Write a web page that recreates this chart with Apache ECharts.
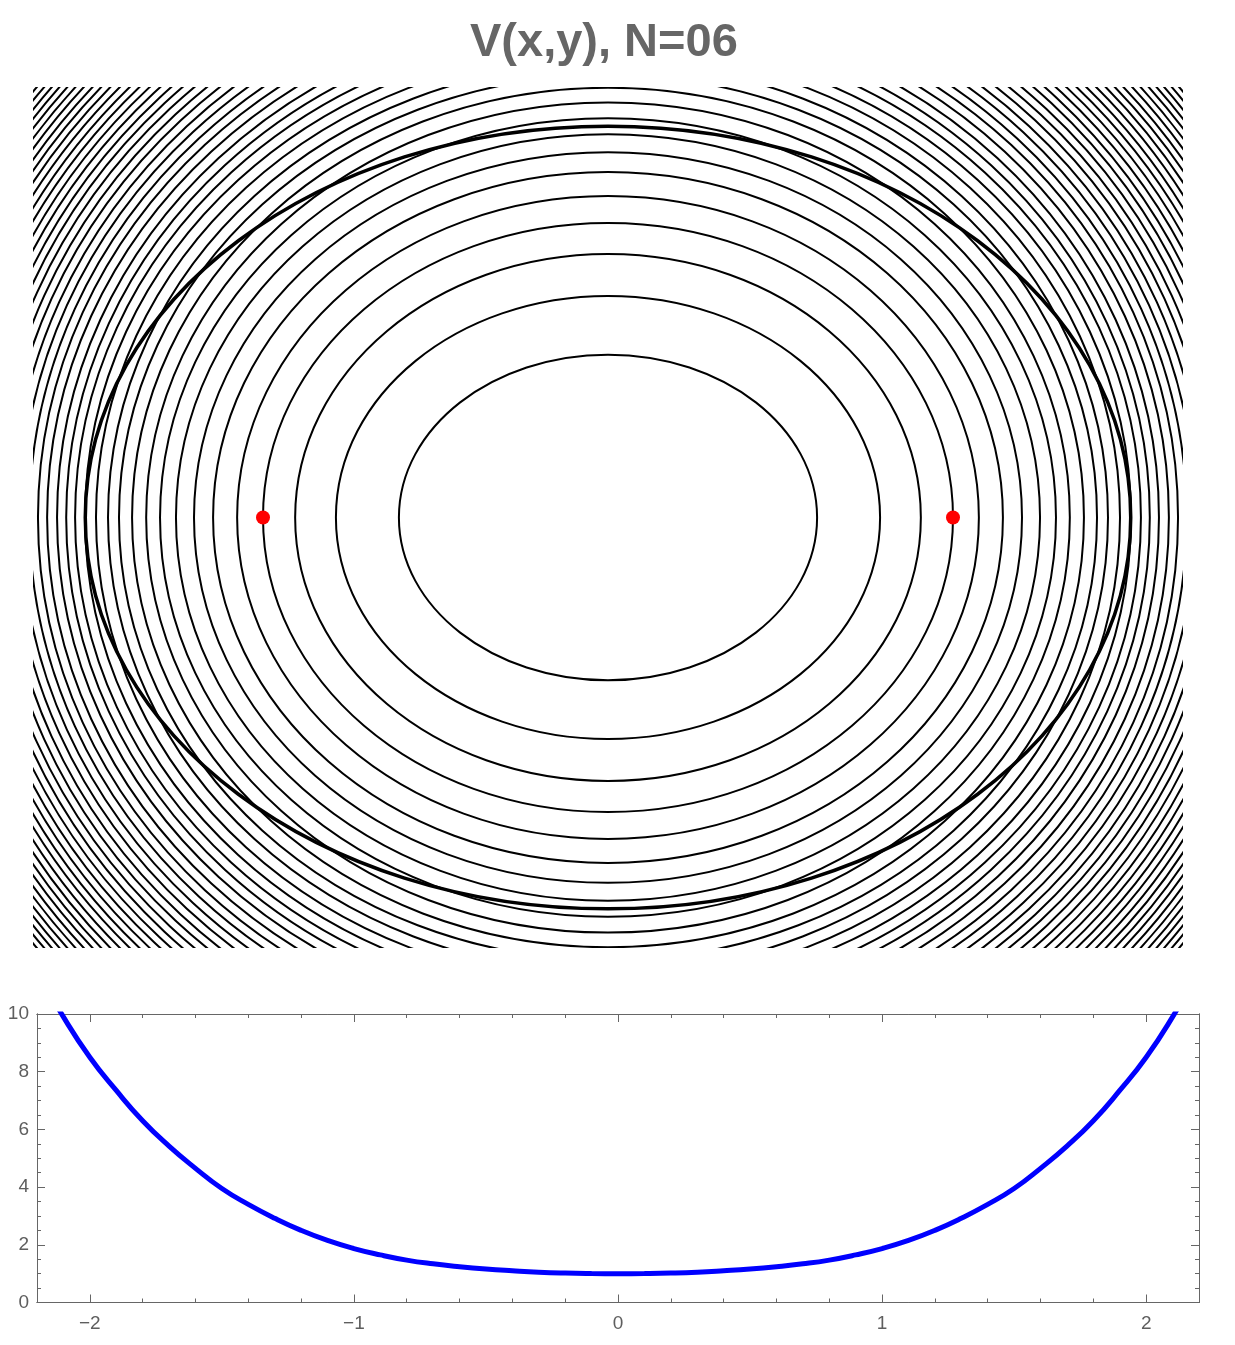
<!DOCTYPE html>
<html>
<head>
<meta charset="utf-8">
<title>V(x,y), N=06</title>
<script src="https://cdn.jsdelivr.net/npm/echarts@6/dist/echarts.min.js"></script>
<style>
  html, body { margin: 0; padding: 0; background: #fff; }
  #chart { width: 1235px; height: 1345px; }
</style>
</head>
<body>
<div id="chart"></div>
<script>
// contour lines of V(x,y): semi-axis along x and along y (data units), inner to outer
var contourRx = [0.800, 1.041, 1.197, 1.320, 1.419, 1.511, 1.584, 1.653, 1.714, 1.767,
  1.821, 1.871, 1.913, 1.959, 2.001, 2.039, 2.073, 2.108, 2.146, 2.181,
  2.214, 2.247, 2.279, 2.311, 2.341, 2.371, 2.400, 2.428, 2.456, 2.483,
  2.510, 2.536, 2.562, 2.588, 2.613, 2.637, 2.661, 2.685, 2.708, 2.730,
  2.752, 2.774, 2.795, 2.816, 2.836, 2.856];
var contourRy = [0.624, 0.849, 1.010, 1.129, 1.232, 1.324, 1.400, 1.469, 1.530, 1.591,
  1.647, 1.696, 1.743, 1.787, 1.829, 1.870, 1.909, 1.947, 1.984, 2.020,
  2.054, 2.088, 2.121, 2.153, 2.184, 2.215, 2.245, 2.274, 2.302, 2.330,
  2.357, 2.383, 2.410, 2.436, 2.461, 2.485, 2.510, 2.533, 2.556, 2.579,
  2.601, 2.623, 2.645, 2.666, 2.686, 2.707];

// thick orbit ellipse (semi-axes) and the two red points
var orbitAxes = [2.0, 1.5];
var pointX = [-1.32, 1.32];
var pointY = [0, 0];

// lower panel: V along x
var curveX = [-2.2, -2.1, -2.0, -1.9, -1.8, -1.7, -1.6, -1.5, -1.4, -1.3, -1.2, -1.1, -1.0,
  -0.9, -0.8, -0.7, -0.6, -0.5, -0.4, -0.3, -0.2, -0.1, 0,
  0.1, 0.2, 0.3, 0.4, 0.5, 0.6, 0.7, 0.8, 0.9, 1.0, 1.1, 1.2, 1.3, 1.4,
  1.5, 1.6, 1.7, 1.8, 1.9, 2.0, 2.1, 2.2];
var curveV = [11.5, 9.9, 8.5, 7.35, 6.3, 5.42, 4.65, 3.95, 3.4, 2.92, 2.5, 2.15, 1.87,
  1.65, 1.47, 1.34, 1.24, 1.16, 1.10, 1.05, 1.02, 1.005, 1.0,
  1.005, 1.02, 1.05, 1.10, 1.16, 1.24, 1.34, 1.47, 1.65, 1.87, 2.15, 2.5, 2.92, 3.4,
  3.95, 4.65, 5.42, 6.3, 7.35, 8.5, 9.9, 11.5];

var xMajor = [-2, -1, 0, 1, 2];
var yMajor = [0, 2, 4, 6, 8, 10];

var xMinor = [];
for (var i = -10; i <= 10; i++) { if (i % 5 !== 0) xMinor.push(i / 5); }
var yMinor = [];
for (var j = 1; j < 20; j++) { if (j % 4 !== 0) yMinor.push(j / 2); }

var gray = '#666';
var font = 'Liberation Sans, Arial, sans-serif';

function fmt(v) {
  return v < 0 ? '\u2212' + (-v) : String(v);
}

function frameAxis(dir, pos, ticks, len, labels) {
  var ax = {
    type: 'value',
    gridIndex: 1,
    position: pos,
    min: dir === 'x' ? -2.2 : 0,
    max: dir === 'x' ? 2.2 : 10,
    splitLine: { show: false },
    axisLine: { show: true, onZero: false, lineStyle: { color: gray, width: 1 } },
    axisTick: { show: true, inside: true, length: len, customValues: ticks,
      lineStyle: { color: gray, width: 1 } },
    axisLabel: { show: false }
  };
  if (labels) {
    ax.axisLabel = { show: true, customValues: labels, formatter: fmt, color: '#5e5e5e',
      fontSize: 19, fontFamily: font, margin: dir === 'x' ? 12 : 8 };
  }
  return ax;
}

var contourData = contourRx.map(function (rx, k) { return [rx, contourRy[k]]; });
var curveData = curveX.map(function (x, k) { return [x, curveV[k]]; });
var pointData = pointX.map(function (x, k) { return [x, pointY[k]]; });

function ellipseItem(width) {
  return function (params, api) {
    var c = api.coord([0, 0]);
    var s = api.size([api.value(0) * 2, api.value(1) * 2], [0, 0]);
    return {
      type: 'ellipse',
      shape: { cx: c[0], cy: c[1], rx: s[0] / 2, ry: s[1] / 2 },
      style: { fill: null, stroke: '#000', lineWidth: width }
    };
  };
}

var chart = echarts.init(document.getElementById('chart'), null, { renderer: 'canvas' });
chart.setOption({
  animation: false,
  backgroundColor: '#fff',
  title: {
    text: 'V(x,y), N=06',
    left: 470,
    top: 20,
    padding: 0,
    textStyle: { fontSize: 47, fontWeight: 'bold', color: gray, fontFamily: font }
  },
  grid: [
    { left: 33, top: 87, width: 1150, height: 861 },
    { left: 37, top: 1014, width: 1162, height: 288.5 }
  ],
  xAxis: [
    { type: 'value', gridIndex: 0, min: -2.2, max: 2.2, show: false },
    frameAxis('x', 'bottom', xMajor, 8, xMajor),
    frameAxis('x', 'bottom', xMinor, 4),
    frameAxis('x', 'top', xMajor, 8),
    frameAxis('x', 'top', xMinor, 4)
  ],
  yAxis: [
    { type: 'value', gridIndex: 0, min: -1.65, max: 1.65, show: false },
    frameAxis('y', 'left', yMajor, 8, yMajor),
    frameAxis('y', 'left', yMinor, 4),
    frameAxis('y', 'right', yMajor, 8),
    frameAxis('y', 'right', yMinor, 4)
  ],
  series: [
    {
      type: 'custom',
      xAxisIndex: 0, yAxisIndex: 0,
      clip: true,
      data: contourData,
      renderItem: ellipseItem(2),
      silent: true
    },
    {
      type: 'custom',
      xAxisIndex: 0, yAxisIndex: 0,
      clip: true,
      data: [orbitAxes],
      renderItem: ellipseItem(3.5),
      silent: true
    },
    {
      type: 'scatter',
      xAxisIndex: 0, yAxisIndex: 0,
      data: pointData,
      symbol: 'circle',
      symbolSize: 14,
      itemStyle: { color: '#ff0000', opacity: 1 },
      z: 5
    },
    {
      type: 'line',
      xAxisIndex: 1, yAxisIndex: 1,
      data: curveData,
      smooth: true,
      showSymbol: false,
      clip: true,
      lineStyle: { color: '#0000ff', width: 5 }
    }
  ]
});
</script>
</body>
</html>
